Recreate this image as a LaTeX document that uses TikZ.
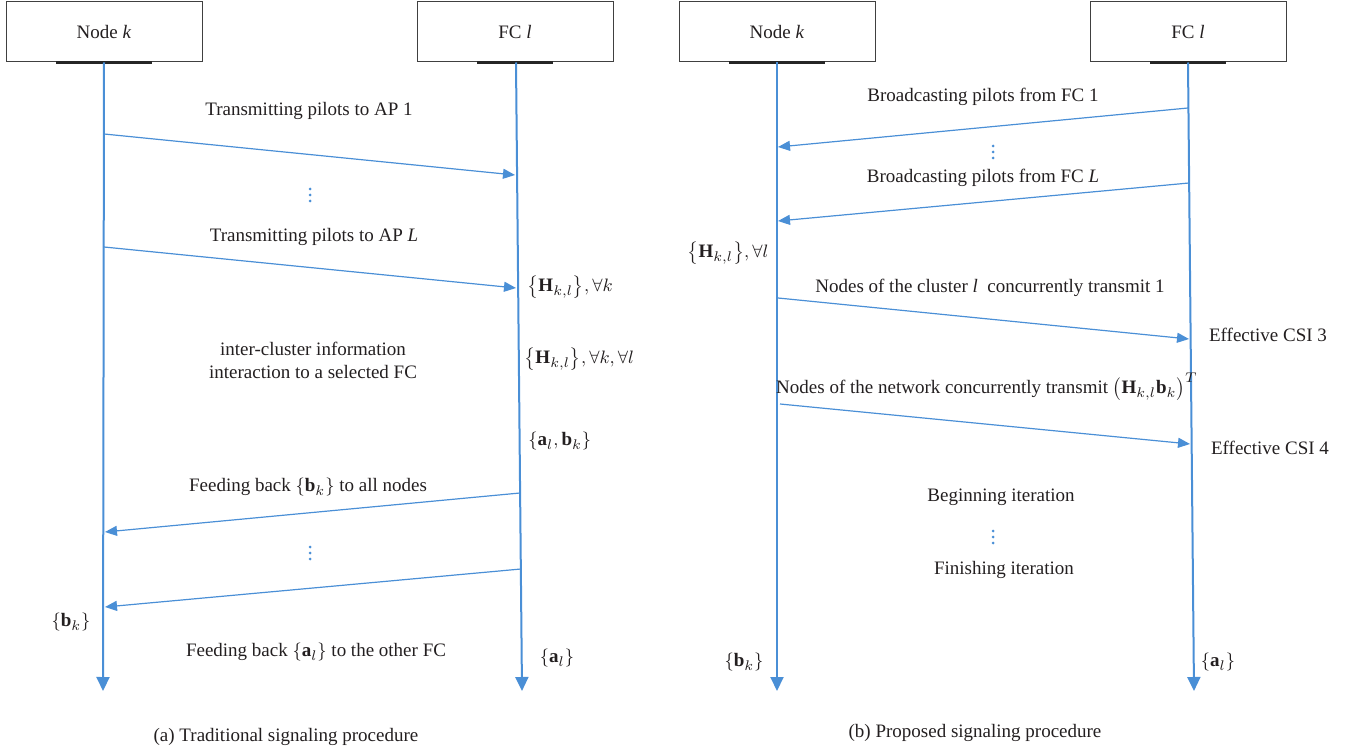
\documentclass[tikz,border=0pt]{standalone}
\usepackage{fontspec}
\setmainfont{Liberation Serif}
\usepackage{amsmath, amssymb}
\usetikzlibrary{arrows.meta, positioning}
\definecolor{SeqBlue}{HTML}{4A8FD6}
\definecolor{SeqText}{HTML}{231F20}
\definecolor{SeqGray}{HTML}{404040}

\begin{document}
\begin{tikzpicture}[x=0.5pt, y=-0.5pt, font=\fontsize{9.5}{11.5}\selectfont, text=SeqText,
    box/.style={draw=SeqGray, line width=0.5pt, fill=white, minimum width=98pt, minimum height=30pt, inner sep=0pt},
    bar/.style={line width=1.5pt, black!85},
    life/.style={SeqBlue, line width=1pt, -{Triangle[length=7pt, width=6.5pt]}},
    msg/.style={SeqBlue, line width=0.6pt, -{Triangle[length=6pt, width=5pt]}},
    lbl/.style={inner sep=1pt}]
    \useasboundingbox (0,0) rectangle (1355,754);

    % Boxes on top
    \node[box] (nodeL) at (104,32) {Node \textit{k}};
    \node[box] (fcL) at (515,32) {FC \textit{l}};
    \node[box] (nodeR) at (777,32) {Node \textit{k}};
    \node[box] (fcR) at (1188,32) {FC \textit{l}};
    \foreach \n/\w in {nodeL/24pt, fcL/19pt, nodeR/24pt, fcR/19pt}
        \draw[bar] ([xshift=-\w]\n.south) -- ([xshift=\w]\n.south);

    % Lifelines
    \coordinate (nodeLend) at (103,691);
    \coordinate (fcLend) at (522,691);
    \coordinate (nodeRend) at (777,691);
    \coordinate (fcRend) at (1194,691);
    \draw[life] (nodeL.south) -- (nodeLend);
    \draw[life] ([xshift=0.5pt]fcL.south) -- (fcLend);
    \draw[life] (nodeR.south) -- (nodeRend);
    \draw[life] (fcR.south) -- (fcRend);

    % Vertical dots
    \foreach \x/\y in {310/195, 310/553, 993/152, 993/537}
        \foreach \d in {-6,0,6}
            \fill[SeqBlue] (\x,\y+\d) circle (0.75pt);

    % (a) Traditional signaling procedure
    \coordinate (p1s) at (104,134);  \coordinate (p1e) at (515,175);
    \coordinate (p2s) at (104,247);  \coordinate (p2e) at (516,288);
    \coordinate (f1s) at (520,493);  \coordinate (f1e) at (105,532);
    \coordinate (f2s) at (521,569);  \coordinate (f2e) at (105,607);
    \draw[msg] (p1s) -- (p1e);
    \draw[msg] (p2s) -- (p2e);
    \draw[msg] (f1s) -- (f1e);
    \draw[msg] (f2s) -- (f2e);

    \node[lbl] (pilot1) at (309,111) {Transmitting pilots to AP 1};
    \node[lbl] (pilotL) at (314,237) {Transmitting pilots to AP \textit{L}};
    \node[lbl, anchor=west] (hA) at (525,287) {$\left\{\mathbf{H}_{k,l}\right\}\!,\forall k$};
    \node[lbl, align=center] (inter) at (313,360) {inter-cluster information\\interaction to a selected FC};
    \node[lbl, anchor=west] (hAll) at (522,359) {$\left\{\mathbf{H}_{k,l}\right\}\!,\forall k,\forall l$};
    \node[lbl, anchor=west] (abA) at (526,441) {$\left\{\mathbf{a}_l,\mathbf{b}_k\right\}$};
    \node[lbl] (feedB) at (308,487) {Feeding back $\left\{\mathbf{b}_k\right\}$ to all nodes};
    \node[lbl] (bA) at (71,622) {$\left\{\mathbf{b}_k\right\}$};
    \node[lbl] (feedA) at (316,652) {Feeding back $\left\{\mathbf{a}_l\right\}$ to the other FC};
    \node[lbl] (aA) at (557,658) {$\left\{\mathbf{a}_l\right\}$};
    \node (capA) at (286,737) {(a) Traditional signaling procedure};

    % (b) Proposed signaling procedure
    \coordinate (c1s) at (1188,108); \coordinate (c1e) at (778,147);
    \coordinate (c2s) at (1189,183); \coordinate (c2e) at (778,221);
    \coordinate (n1s) at (778,298);  \coordinate (n1e) at (1189,339);
    \coordinate (n2s) at (780,404);  \coordinate (n2e) at (1190,444);
    \draw[msg] (c1s) -- (c1e);
    \draw[msg] (c2s) -- (c2e);
    \draw[msg] (n1s) -- (n1e);
    \draw[msg] (n2s) -- (n2e);

    \node[lbl] (bcast1) at (983,97) {Broadcasting pilots from FC 1};
    \node[lbl] (bcastL) at (983,178) {Broadcasting pilots from FC \textit{L}};
    \node[lbl] (hR) at (728,253) {$\left\{\mathbf{H}_{k,l}\right\}\!,\forall l$};
    \node[lbl] (clus) at (990,288) {Nodes of the cluster \textit{l}\ \ concurrently transmit 1};
    \node[lbl] (csi3) at (1268,335) {Effective CSI 3};
    \node[lbl] (net) at (987,387) {Nodes of the network concurrently transmit $\left(\mathbf{H}_{k,l}\mathbf{b}_k\right)^T$};
    \node[lbl] (csi4) at (1270,448) {Effective CSI 4};
    \node[lbl] (beginIt) at (1001,497) {Beginning iteration};
    \node[lbl] (finIt) at (1004,570) {Finishing iteration};
    \node[lbl] (bR) at (744,662) {$\left\{\mathbf{b}_k\right\}$};
    \node[lbl] (aR) at (1218,662) {$\left\{\mathbf{a}_l\right\}$};
    \node (capB) at (975,733) {(b) Proposed signaling procedure};
\end{tikzpicture}
\end{document}
